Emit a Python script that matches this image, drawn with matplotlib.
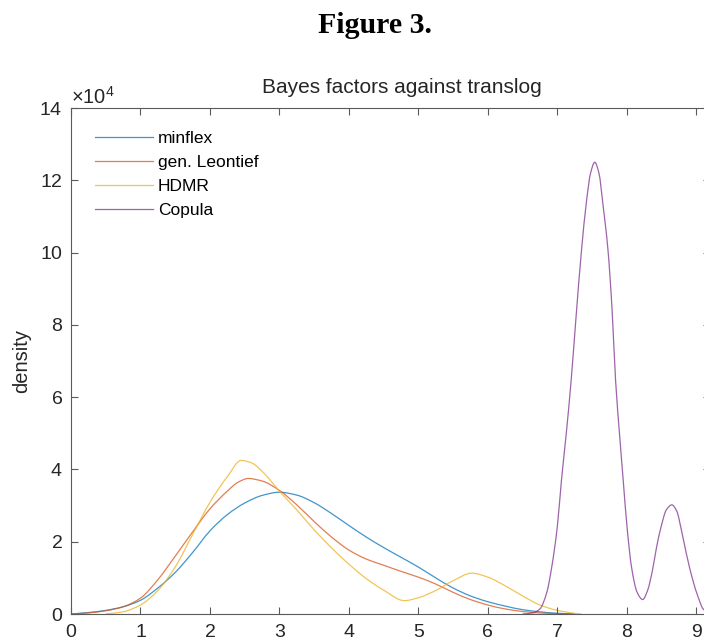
import numpy as np
import matplotlib
matplotlib.use("Agg")
import matplotlib.pyplot as plt
from matplotlib.path import Path
from matplotlib.patches import PathPatch
from matplotlib.lines import Line2D

plt.rcParams['font.family'] = ['Liberation Sans', 'DejaVu Sans']
plt.rcParams['mathtext.fontset'] = 'custom'
plt.rcParams['mathtext.rm'] = 'Liberation Sans'
plt.rcParams['mathtext.it'] = 'Liberation Sans:italic'

# kernel density estimates, density in units of 1e4
minflex_x = [0.0, 0.25, 0.5, 0.75, 1.0, 1.25, 1.5, 1.75, 2.0, 2.25, 2.5, 2.75, 3.0,
             3.25, 3.5, 3.75, 4.0, 4.25, 4.5, 4.75, 5.0, 5.25, 5.5, 5.75, 6.0,
             6.25, 6.5, 6.75, 7.0, 7.25]
minflex_y = [0.0, 0.04, 0.1, 0.2, 0.38, 0.72, 1.15, 1.7, 2.3, 2.75, 3.07, 3.28, 3.37,
             3.29, 3.08, 2.78, 2.45, 2.13, 1.84, 1.57, 1.3, 1.0, 0.72, 0.5, 0.34,
             0.22, 0.12, 0.06, 0.02, 0.0]

leontief_x = [0.0, 0.25, 0.5, 0.75, 1.0, 1.25, 1.5, 1.75, 2.0, 2.25, 2.4, 2.55, 2.75,
              3.0, 3.25, 3.5, 3.75, 4.0, 4.25, 4.5, 4.75, 5.0, 5.25, 5.5, 5.75,
              6.0, 6.25, 6.5, 6.75, 7.0, 7.25]
leontief_y = [0.0, 0.03, 0.09, 0.2, 0.44, 0.95, 1.6, 2.27, 2.91, 3.4, 3.64, 3.75, 3.68,
              3.42, 3.02, 2.56, 2.13, 1.77, 1.52, 1.35, 1.18, 1.02, 0.83, 0.6, 0.4,
              0.25, 0.14, 0.07, 0.03, 0.01, 0.0]

hdmr_x = [0.5, 0.75, 1.0, 1.25, 1.5, 1.75, 2.0, 2.25, 2.45, 2.6, 2.75, 3.0, 3.25,
          3.5, 3.75, 4.0, 4.25, 4.5, 4.8, 5.0, 5.25, 5.5, 5.77, 6.0, 6.25, 6.5,
          6.75, 7.0, 7.25, 7.35]
hdmr_y = [0.0, 0.06, 0.25, 0.65, 1.3, 2.2, 3.09, 3.8, 4.25, 4.18, 3.95, 3.4, 2.88,
          2.33, 1.83, 1.38, 0.98, 0.66, 0.37, 0.45, 0.65, 0.92, 1.13, 1.02, 0.78, 0.5,
          0.25, 0.1, 0.02, 0.0]

copula_x = [6.5, 6.65, 6.75, 6.85, 6.92, 7.0, 7.06, 7.13, 7.2, 7.27, 7.35, 7.42, 7.48,
            7.54, 7.6, 7.66, 7.73, 7.79, 7.84, 7.9, 7.95, 8.01, 8.07, 8.15, 8.23,
            8.3, 8.37, 8.43, 8.5, 8.57, 8.65, 8.72, 8.79, 8.86, 8.95, 9.03, 9.1, 9.2]
copula_y = [0.0, 0.03, 0.14, 0.6, 1.29, 2.4, 3.69, 5.0, 6.46, 8.2, 10.08, 11.4, 12.2,
            12.5, 12.2, 11.3, 10.08, 8.4, 6.46, 4.9, 3.69, 2.3, 1.29, 0.6, 0.4,
            0.65, 1.2, 1.85, 2.45, 2.88, 3.02, 2.85, 2.3, 1.66, 0.95, 0.46, 0.14, 0.0]

series = [
    ("minflex", minflex_x, minflex_y, "#0072BD"),
    ("gen. Leontief", leontief_x, leontief_y, "#D95319"),
    ("HDMR", hdmr_x, hdmr_y, "#EDB120"),
    ("Copula", copula_x, copula_y, "#7E2F8E"),
]


def smooth_path(xs, ys):
    # monotone cubic (Fritsch-Butland) through the points, as Bezier segments
    x = np.asarray(xs, float)
    y = np.asarray(ys, float)
    h = np.diff(x)
    d = np.diff(y) / h
    m = np.zeros_like(y)
    m[0], m[-1] = d[0], d[-1]
    for i in range(1, len(x) - 1):
        if d[i - 1] * d[i] > 0:
            w1 = 2 * h[i] + h[i - 1]
            w2 = h[i] + 2 * h[i - 1]
            m[i] = (w1 + w2) / (w1 / d[i - 1] + w2 / d[i])
    verts = [(x[0], y[0])]
    codes = [Path.MOVETO]
    for i in range(len(h)):
        verts += [(x[i] + h[i] / 3, y[i] + m[i] * h[i] / 3),
                  (x[i + 1] - h[i] / 3, y[i + 1] - m[i + 1] * h[i] / 3),
                  (x[i + 1], y[i + 1])]
        codes += [Path.CURVE4] * 3
    return Path(verts, codes)


fig = plt.figure(figsize=(7.04, 6.43), dpi=100)
ax = fig.add_axes([0.1009, 0.0451, 0.9077, 0.7869])

handles = []
for name, xs, ys, col in series:
    ax.add_patch(PathPatch(smooth_path(xs, np.array(ys) * 1e4), fill=False,
                           edgecolor=col, lw=0.9, alpha=0.75))
    handles.append(Line2D([], [], color=col, lw=0.9, alpha=0.75, label=name))

ax.set_xlim(0, 9.2)
ax.set_ylim(0, 14e4)
ax.set_xticks(range(0, 10))
ax.set_yticks(np.arange(0, 15e4, 2e4))
ax.ticklabel_format(axis='y', style='sci', scilimits=(4, 4), useMathText=True)
ax.yaxis.get_offset_text().set_fontsize(14.5)
ax.yaxis.get_offset_text().set_color('#262626')

axcol = '#5a5a5a'
for s in ax.spines.values():
    s.set_color(axcol)
    s.set_linewidth(0.8)
ax.tick_params(direction='in', length=5, width=0.8, color=axcol, top=True, right=True,
               labelsize=14, labelcolor='#262626')
ax.tick_params(axis='x', pad=7.5)
ax.tick_params(axis='y', pad=6)

ax.set_ylabel("density", fontsize=14.5, color='#262626', labelpad=6)
ax.set_title("Bayes factors against translog", fontsize=15, color='#262626',
             x=0.518, pad=11)

ax.legend(handles=handles, loc='upper left', bbox_to_anchor=(0.038, 0.954),
          frameon=False, fontsize=12.5, handlelength=3.3, handletextpad=0.3,
          labelspacing=0.51, borderpad=0, borderaxespad=0)

fig.text(0.533, 0.948, "Figure 3.", family='Liberation Serif', weight='bold',
         fontsize=21.5, ha='center', va='baseline')

fig.savefig("out.png", dpi=100)
